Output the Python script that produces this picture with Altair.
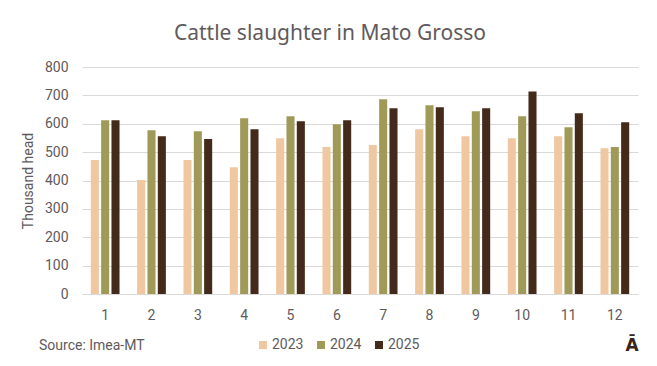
import altair as alt
import pandas as pd

months = [str(m) for m in range(1, 13)]
years = ["2023", "2024", "2025"]
v2023 = [472, 402, 472, 447, 549, 518, 525, 581, 556, 549, 556, 514]
v2024 = [612, 577, 574, 619, 626, 598, 686, 665, 644, 626, 588, 518]
v2025 = [612, 556, 546, 581, 609, 612, 655, 658, 655, 714, 637, 605]
colors = ["#EFC8A2", "#A09A59", "#432A1A"]

rows = []
for y, vals in zip(years, [v2023, v2024, v2025]):
    for m, v in zip(months, vals):
        rows.append({"month": m, "year": y, "value": v})
df = pd.DataFrame(rows)

TXT = "#605a5c"
FONT = "Roboto"

bars = alt.Chart(df).mark_bar().encode(
    x=alt.X("month:N", sort=months,
            scale=alt.Scale(paddingInner=0.38, paddingOuter=0.19),
            axis=alt.Axis(title=None, labelAngle=0, labelFontSize=14, labelColor=TXT,
                          labelFont=FONT, labelPadding=14, ticks=False,
                          domainColor="#d9d9d9", grid=False)),
    xOffset=alt.XOffset("year:N", scale=alt.Scale(paddingInner=0.22, paddingOuter=0)),
    y=alt.Y("value:Q", scale=alt.Scale(domain=[0, 800], nice=False),
            axis=alt.Axis(values=list(range(0, 801, 100)), title="Thousand head",
                          titleFontSize=14, titleFont=FONT, titleColor=TXT,
                          titleFontWeight="normal", titlePadding=9,
                          labelFontSize=14, labelColor=TXT, labelFont=FONT,
                          labelPadding=14, ticks=False, domain=False,
                          gridColor="#d9d9d9")),
    color=alt.Color("year:N", scale=alt.Scale(domain=years, range=colors),
                    legend=alt.Legend(title=None, orient="none", direction="horizontal",
                                      legendX=174, legendY=271, symbolType="square",
                                      symbolSize=64, symbolStrokeWidth=0,
                                      labelFontSize=14, labelFont=FONT, labelColor=TXT,
                                      labelOffset=2, columnPadding=10)),
)

source = alt.Chart(pd.DataFrame({"t": ["Source: Imea-MT"]})).mark_text(
    align="left", baseline="middle", fontSize=14, font=FONT, color=TXT
).encode(x=alt.value(-43), y=alt.value(279), text="t:N")

logo = alt.Chart(pd.DataFrame({"t": ["Ā"]})).mark_text(
    align="center", baseline="middle", fontSize=17, font="DejaVu Sans", fontWeight="bold",
    color="#3a2418"
).encode(x=alt.value(550), y=alt.value(279), text="t:N")

chart = alt.layer(bars, source, logo).properties(
    width=556, height=227,
    title=alt.TitleParams("Cattle slaughter in Mato Grosso", fontSize=21, font="Noto Sans",
                          fontWeight="normal", color=TXT, anchor="middle", dx=-30, offset=16),
    autosize=alt.AutoSizeParams(type="none"),
    padding={"left": 74, "top": 59, "right": 11, "bottom": 64},
).configure_view(stroke=None)

chart.save("out.html", embed_options={"renderer": "svg", "actions": False})
